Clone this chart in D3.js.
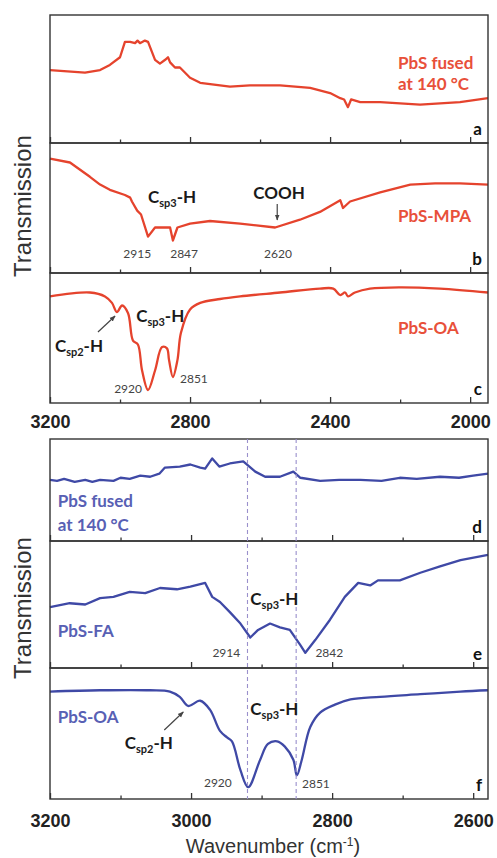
<!DOCTYPE html>
<html>
<head>
<meta charset="utf-8">
<script src="https://cdn.jsdelivr.net/npm/d3@7"></script>
<style>
  body { margin: 0; background: #fff; }
</style>
</head>
<body>
<div id="chart"></div>
<script>
// spectra: wavenumber (cm-1) and transmission (0-100, relative, per panel)
const wnA = [3200,3150,3100,3057,3029,3000,2986,2971,2957,2950,2943,2929,2920,2900,2886,2871,2863,2857,2843,2829,2800,2771,2686,2629,2543,2457,2400,2371,2360,2349,2340,2314,2257,2143,2029,1949];
const tA  = [57,56,55,57,61,67,79,79,78,80,78,80,79,65,62,65,67,63,59,59,51,47,44,45,45,43,39,35,34,28,34,32,32,30,32,35];

const wnB = [3200,3143,3086,3057,3029,2986,2971,2966,2951,2940,2920,2900,2871,2857,2849,2836,2800,2743,2657,2557,2486,2429,2371,2363,2343,2257,2171,2100,2029,1949];
const tB  = [88,85,74,68,64,60,58,55,48,45,28,35,35,35,25,35,38,40,38,35,41,47,56,50,55,62,68,69,69,68];

const wnC = [3200,3086,3043,3023,3009,2994,2977,2963,2949,2937,2920,2900,2880,2866,2860,2849,2836,2826,2800,2771,2714,2657,2543,2429,2391,2371,2357,2349,2329,2286,2200,2086,1949];
const tC  = [82,85,82,77,70,75,69,48,45,25,10,25,43,42,33,20,33,54,72,77,80,82,85,88,88,83,85,82,85,88,89,88,85];

const wnD = [3200,3190,3180,3165,3150,3140,3129,3110,3100,3087,3072,3058,3045,3037,3016,3001,2987,2980,2970,2960,2945,2926,2909,2895,2874,2855,2845,2817,2790,2760,2730,2704,2680,2647,2620,2600,2579];
const tD  = [60,59,61,58,60,58,60,59,62,61,64,63,66,72,73,75,72,71,81,73,76,78,68,63,63,68,62,59,60,60,59,62,61,63,62,64,66];

const wnE = [3200,3172,3150,3129,3110,3087,3065,3044,3020,3001,2980,2970,2959,2945,2930,2916,2905,2888,2874,2860,2845,2838,2824,2803,2782,2763,2746,2735,2704,2675,2647,2618,2579];
const tE  = [48,51,50,55,56,60,59,63,62,64,67,56,52,44,35,24,30,35,32,30,18,12,22,38,56,67,65,69,69,75,80,85,89];

const wnF = [3200,3129,3058,3030,3016,3004,2987,2973,2959,2949,2942,2930,2919,2902,2891,2878,2867,2855,2850,2843,2831,2817,2796,2774,2732,2675,2618,2579];
const tF  = [82,83,83,82,78,71,75,68,52,47,44,22,9,30,42,44,40,30,18,30,55,66,72,76,78,80,82,83];

const topTicks = [3200, 3000, 2800, 2600, 2400, 2200, 2000];
const topLabels = [3200, 2800, 2400, 2000];
const botTicks = [3200, 3100, 3000, 2900, 2800, 2700, 2600];
const botLabels = [3200, 3000, 2800, 2600];
const guidePeaks = [2920, 2851];

const red = "#e5432d", redText = "#e8503a";
const blue = "#3f49a6", blueText = "#5860b4";

const W = 497, H = 858;
const svg = d3.select("#chart").append("svg")
    .attr("width", W).attr("height", H)
    .style("font-family", "Lato, 'Open Sans', sans-serif");

const xTop = d3.scaleLinear().domain([3200, 1949]).range([50, 488]);
const xBot = d3.scaleLinear().domain([3200, 2579]).range([50, 488]);

const panels = [
    { id: "a", x: xTop, top: 15,  h: 128, wn: wnA, t: tA, color: red,  curve: d3.curveLinear },
    { id: "b", x: xTop, top: 143, h: 130, wn: wnB, t: tB, color: red,  curve: d3.curveLinear },
    { id: "c", x: xTop, top: 273, h: 130, wn: wnC, t: tC, color: red,  curve: d3.curveCatmullRom, last: true },
    { id: "d", x: xBot, top: 439, h: 102, wn: wnD, t: tD, color: blue, curve: d3.curveLinear },
    { id: "e", x: xBot, top: 541, h: 127, wn: wnE, t: tE, color: blue, curve: d3.curveLinear },
    { id: "f", x: xBot, top: 668, h: 131, wn: wnF, t: tF, color: blue, curve: d3.curveCatmullRom, last: true }
];

// annotations: x in wavenumber, dy = baseline offset below the panel top
const notes = [
    { p: "a", wn: 2206, dy: 53.5, text: "PbS fused", kind: "series" },
    { p: "a", wn: 2206, dy: 74.5, text: "at 140 °C", kind: "series" },
    { p: "b", wn: 2206, dy: 79, text: "PbS-MPA", kind: "series" },
    { p: "b", wn: 2920, dy: 60, text: ["C", "sp3", "-H"], kind: "group" },
    { p: "b", wn: 2546, dy: 56, text: "COOH", kind: "group", anchor: "middle" },
    { p: "b", wn: 2951, dy: 115, text: "2915", kind: "peak" },
    { p: "b", wn: 2817, dy: 115, text: "2847", kind: "peak" },
    { p: "b", wn: 2549, dy: 115, text: "2620", kind: "peak" },
    { p: "c", wn: 2206, dy: 61, text: "PbS-OA", kind: "series" },
    { p: "c", wn: 2954, dy: 49, text: ["C", "sp3", "-H"], kind: "group" },
    { p: "c", wn: 3186, dy: 79, text: ["C", "sp2", "-H"], kind: "group" },
    { p: "c", wn: 2977, dy: 120, text: "2920", kind: "peak" },
    { p: "c", wn: 2789, dy: 110, text: "2851", kind: "peak" },
    { p: "d", wn: 3189, dy: 68, text: "PbS fused", kind: "series" },
    { p: "d", wn: 3189, dy: 92, text: "at 140 °C", kind: "series" },
    { p: "e", wn: 3189, dy: 96, text: "PbS-FA", kind: "series" },
    { p: "e", wn: 2916, dy: 64, text: ["C", "sp3", "-H"], kind: "group" },
    { p: "e", wn: 2950, dy: 116, text: "2914", kind: "peak" },
    { p: "e", wn: 2804, dy: 116, text: "2842", kind: "peak" },
    { p: "f", wn: 3189, dy: 55, text: "PbS-OA", kind: "series" },
    { p: "f", wn: 3094, dy: 81, text: ["C", "sp2", "-H"], kind: "group" },
    { p: "f", wn: 2916, dy: 47, text: ["C", "sp3", "-H"], kind: "group" },
    { p: "f", wn: 2962, dy: 119, text: "2920", kind: "peak" },
    { p: "f", wn: 2823, dy: 120, text: "2851", kind: "peak" }
];

const arrows = [
    { p: "b", wn1: 2551, dy1: 61, wn2: 2551, dy2: 77 },
    { p: "c", wn1: 3063, dy1: 59, wn2: 3014, dy2: 43 },
    { p: "f", wn1: 3038, dy1: 62, wn2: 3011, dy2: 44 }
];

svg.append("defs").append("marker")
    .attr("id", "head").attr("viewBox", "0 0 10 10")
    .attr("refX", 9).attr("refY", 5)
    .attr("markerWidth", 5).attr("markerHeight", 5)
    .attr("orient", "auto")
    .append("path").attr("d", "M0,1 L10,5 L0,9 z").attr("fill", "#444");

const byId = {};

panels.forEach(p => {
    byId[p.id] = p;
    const y = d3.scaleLinear().domain([0, 100]).range([p.top + p.h, p.top]);
    p.y = y;
    const g = svg.append("g");

    const pts = p.wn.map((w, i) => [w, p.t[i]]);
    g.append("path")
        .datum(pts)
        .attr("fill", "none")
        .attr("stroke", p.color)
        .attr("stroke-width", 2.3)
        .attr("stroke-linejoin", "round")
        .attr("d", d3.line().x(d => p.x(d[0])).y(d => y(d[1])).curve(p.curve));

    const isTop = p.x === xTop;
    const ticks = isTop ? topTicks : botTicks;
    const labels = isTop ? topLabels : botLabels;

    // minor ticks
    g.append("g")
        .attr("transform", `translate(0,${p.top + p.h})`)
        .call(d3.axisBottom(p.x).tickValues(ticks.filter(t => !labels.includes(t))).tickSize(-3.5).tickFormat(""))
        .call(a => a.select(".domain").remove())
        .call(a => a.selectAll("line").attr("stroke", "#333").attr("stroke-width", 1.3));

    // major ticks, labelled only under the last panel
    g.append("g")
        .attr("transform", `translate(0,${p.top + p.h})`)
        .call(d3.axisBottom(p.x).tickValues(labels).tickSize(-6).tickPadding(isTop ? 12 : 15)
            .tickFormat(p.last ? d3.format("d") : ""))
        .call(a => a.select(".domain").remove())
        .call(a => a.selectAll("line").attr("stroke", "#333").attr("stroke-width", 1.3))
        .call(a => a.selectAll("text")
            .attr("fill", "#222")
            .style("font-family", "'Liberation Sans', Arial, sans-serif")
            .style("font-weight", "bold")
            .style("font-size", "18px"));

    g.append("rect")
        .attr("x", p.x.range()[0]).attr("y", p.top)
        .attr("width", p.x.range()[1] - p.x.range()[0]).attr("height", p.h)
        .attr("fill", "none").attr("stroke", "#333").attr("stroke-width", 1.4);

    g.append("text")
        .attr("x", 482).attr("y", p.top + p.h - 8)
        .attr("text-anchor", "end")
        .attr("fill", "#111")
        .style("font-size", "17px").style("font-weight", "bold")
        .text(p.id);
});

// dashed guides through the lower three panels
svg.append("g").selectAll("line")
    .data(guidePeaks)
    .join("line")
    .attr("x1", d => xBot(d)).attr("x2", d => xBot(d))
    .attr("y1", byId.d.top).attr("y2", byId.f.top + byId.f.h)
    .attr("stroke", "#9a90cc").attr("stroke-width", 1.1)
    .attr("stroke-dasharray", "4,3");

notes.forEach(n => {
    const p = byId[n.p];
    const t = svg.append("text")
        .attr("x", p.x(n.wn))
        .attr("y", p.top + n.dy);
    if (n.kind === "series") {
        t.attr("fill", p.color === red ? redText : blueText)
            .style("font-size", "17px").style("font-weight", "bold")
            .text(n.text);
    } else if (n.kind === "peak") {
        t.attr("text-anchor", "middle").attr("fill", "#444")
            .style("font-size", "12px")
            .text(n.text);
    } else {
        t.attr("fill", "#1a1a1a").style("font-size", "17px").style("font-weight", "bold");
        if (n.anchor) t.attr("text-anchor", n.anchor);
        if (Array.isArray(n.text)) {
            t.append("tspan").text(n.text[0]);
            t.append("tspan").attr("dy", 4).style("font-size", "11px").text(n.text[1]);
            t.append("tspan").attr("dy", -4).text(n.text[2]);
        } else {
            t.text(n.text);
        }
    }
});

arrows.forEach(a => {
    const p = byId[a.p];
    svg.append("line")
        .attr("x1", p.x(a.wn1)).attr("y1", p.top + a.dy1)
        .attr("x2", p.x(a.wn2)).attr("y2", p.top + a.dy2)
        .attr("stroke", "#444").attr("stroke-width", 1.2)
        .attr("marker-end", "url(#head)");
});

// axis titles
const ylab = [
    { text: "Transmission", cy: 206 },
    { text: "Transmission", cy: 608 }
];
svg.selectAll("text.ylab")
    .data(ylab)
    .join("text")
    .attr("class", "ylab")
    .attr("transform", d => `translate(31,${d.cy}) rotate(-90)`)
    .attr("text-anchor", "middle")
    .attr("fill", "#333")
    .style("font-family", "'Liberation Sans', Arial, sans-serif")
    .style("font-size", "24px")
    .text(d => d.text);

const xt = svg.append("text")
    .attr("x", 273).attr("y", 853)
    .attr("text-anchor", "middle")
    .attr("fill", "#333")
    .style("font-family", "'Liberation Sans', Arial, sans-serif")
    .style("font-size", "20px");
xt.append("tspan").text("Wavenumber (cm");
xt.append("tspan").attr("dy", -7).style("font-size", "12px").text("-1");
xt.append("tspan").attr("dy", 7).text(")");
</script>
</body>
</html>
